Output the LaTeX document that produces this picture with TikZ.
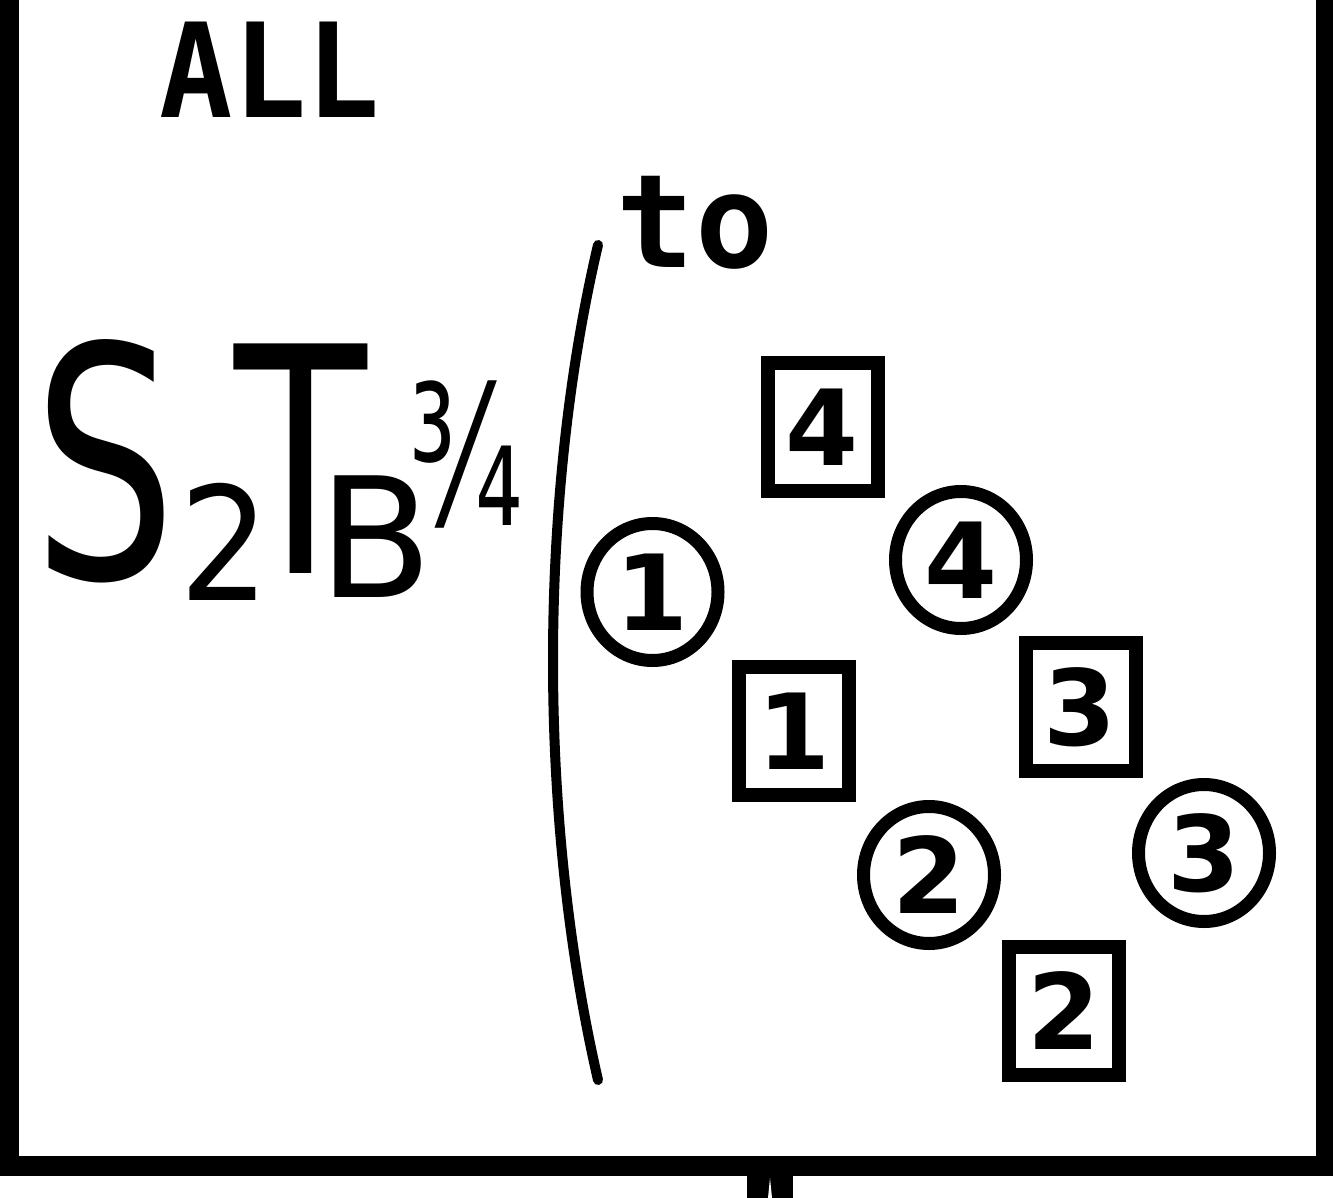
\documentclass[tikz,border=0pt]{standalone}
\usepackage{fontspec}
\usepackage{graphicx}
\usetikzlibrary{shapes.geometric}
\newfontfamily\dsans{DejaVu Sans}
\newfontfamily\dmono{DejaVu Sans Mono}
\tikzset{
  x=1pt, y=1pt,
  glyph/.style={inner sep=0pt, anchor=base, text depth=0pt},
  sqbox/.style={draw, rectangle, line width=14pt, minimum width=110pt, minimum height=128pt,
    inner sep=0pt, font=\dsans\bfseries\fontsize{105}{105}\selectfont, text height=76.5pt, text depth=0pt},
  circbox/.style={draw, ellipse, line width=13pt, minimum width=131pt, minimum height=137pt,
    inner sep=0pt, font=\dsans\bfseries\fontsize{105}{105}\selectfont, text height=76.5pt, text depth=0pt},
}
\begin{document}
\begin{tikzpicture}
\useasboundingbox (0,0) rectangle (1333,-1198);
% frame
\fill (0,0) rectangle (19,-1176);
\fill (1316,0) rectangle (1333,-1176);
\fill (0,-1156) rectangle (1333,-1176);
\fill (747,-1176) rectangle (793,-1198);
\fill[white] (770,-1178) -- (768,-1198) -- (772,-1198) -- cycle;
% texts
\node[glyph, font=\dmono\bfseries\fontsize{131}{131}\selectfont] (all) at (270,-118) {\scalebox{0.93}[1]{ALL}};
\node[glyph, font=\dmono\bfseries\fontsize{130}{130}\selectfont] (to) at (695,-268) {to};
% formula
\node[glyph, text height=235pt, font=\dsans\fontsize{322}{322}\selectfont] (S) at (105,-578) {\scalebox{0.7}[1]{S}};
\node[glyph, text height=115pt, font=\dsans\fontsize{158}{158}\selectfont] (sub2) at (225,-600) {\makebox[70pt]{\scalebox{0.9}[1]{2}}};
\node[glyph, text height=230pt, font=\dsans\fontsize{315}{315}\selectfont] (T) at (301,-573) {\makebox[133pt]{\scalebox{0.69}[1]{T}}};
\node[glyph, text height=122pt, font=\dsans\fontsize{167}{167}\selectfont] (B) at (376,-597) {\makebox[83pt]{B}};
\node[glyph, text height=145pt, font=\dsans\fontsize{195}{195}\selectfont] (frac) at (466,-525) {\makebox[106pt]{\scalebox{0.6}[1]{¾}}};
% bracket
\coordinate (btop) at (598,-245);
\coordinate (bbot) at (598,-1080);
\draw[line width=10pt, line cap=round] (btop) .. controls (538,-500) and (538,-820) .. (bbot);
% boxes
\node[sqbox] (s4) at (822.5,-427) {4};
\node[sqbox] (s1) at (794,-731) {1};
\node[sqbox] (s3) at (1080.5,-707) {3};
\node[sqbox] (s2) at (1064,-1011) {2};
\node[circbox] (c1) at (652.5,-592) {1};
\node[circbox] (c4) at (961,-560) {4};
\node[circbox] (c2) at (929,-875) {2};
\node[circbox] (c3) at (1204,-853) {3};
\end{tikzpicture}
\end{document}
